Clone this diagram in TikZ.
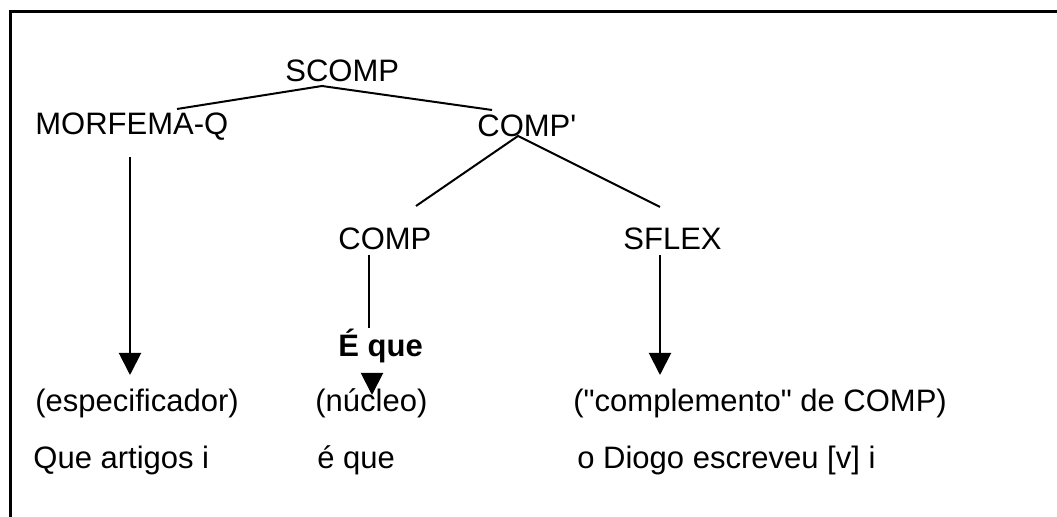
\documentclass[tikz,border=0pt]{standalone}
\usepackage{fontspec}
\newfontfamily\treefont{Liberation Sans}
\usetikzlibrary{arrows.meta}

\begin{document}
\begin{tikzpicture}[x=0.5pt, y=-0.5pt]
% Styles
\tikzset{
  lbl/.style={font=\treefont\fontsize{15.5}{18}\selectfont, inner sep=0pt, anchor=base west},
  branch/.style={line width=1pt},
  arr/.style={line width=1pt, -{Triangle[length=11pt, width=11pt]}}
}
\useasboundingbox (0,0) rectangle (1057,517);

% Frame (top and left only)
\draw[line width=1.5pt] (10,517) -- (10,12) -- (1057,12);

% Tree labels
\node[lbl] (scomp) at (285,82) {SCOMP};
\node[lbl] (morfema) at (35,135) {MORFEMA-Q};
\node[lbl] (compbar) at (477,137) {COMP'};
\node[lbl] (comp) at (338,250) {COMP};
\node[lbl] (sflex) at (623,250) {SFLEX};
\node[lbl, font=\treefont\bfseries\fontsize{15.5}{18}\selectfont] (eque) at (338,357) {É que};

% Bottom rows
\node[lbl] (espec) at (35,412) {(especificador)};
\node[lbl] (nucleo) at (315,412) {(núcleo)};
\node[lbl] (complem) at (573,412) {("complemento" de COMP)};
\node[lbl] (que) at (33,469) {Que artigos i};
\node[lbl] (equelow) at (317,469) {é que};
\node[lbl] (diogo) at (577,469) {o Diogo escreveu [v] i};

% Branch points
\coordinate (scompfoot) at (322,86);
\coordinate (morfemahead) at (177,109);
\coordinate (compbarhead) at (492,110);
\coordinate (compbarfoot) at (518,136);
\coordinate (comphead) at (416,206);
\coordinate (sflexhead) at (660,207);

% Branches
\draw[branch] (morfemahead) -- (scompfoot) -- (compbarhead);
\draw[branch] (comphead) -- (compbarfoot) -- (sflexhead);

% Arrows down to the roles
\coordinate (qtop) at (130,157);
\coordinate (qtip) at (130,375);
\draw[arr] (qtop) -- (qtip);

\coordinate (ctop) at (369,255);
\coordinate (cbot) at (369,328);
\draw[branch] (ctop) -- (cbot);
\coordinate (etop) at (372,377);
\coordinate (etip) at (372,395);
\draw[arr] (etop) -- (etip);

\coordinate (stop) at (660,255);
\coordinate (stip) at (660,375);
\draw[arr] (stop) -- (stip);
\end{tikzpicture}
\end{document}
